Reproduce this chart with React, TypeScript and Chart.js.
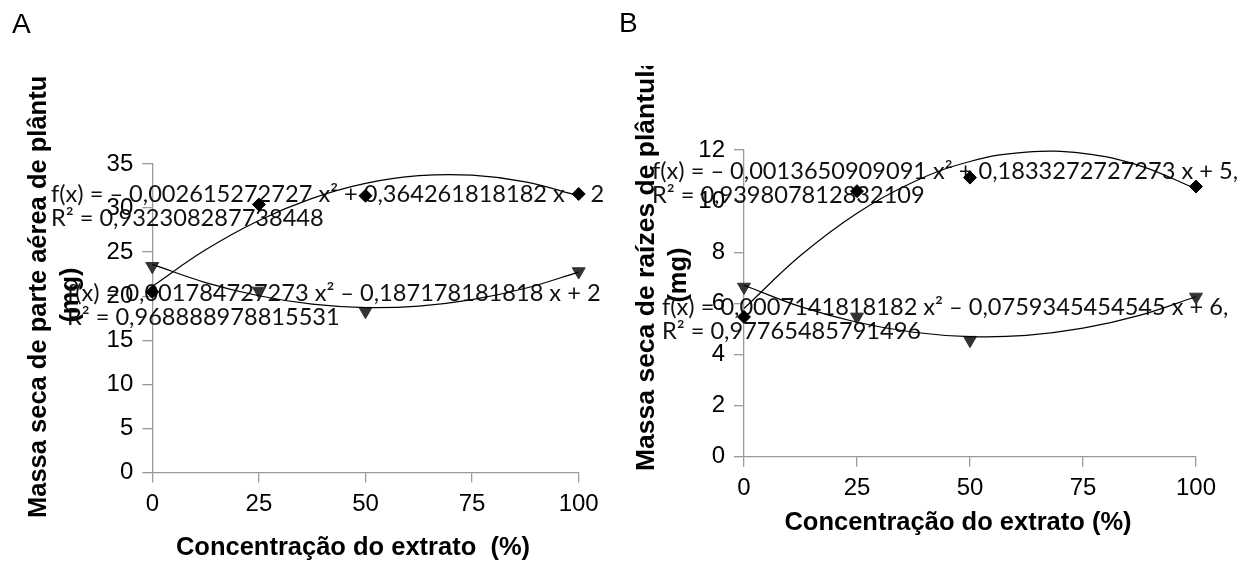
import React, { useEffect, useRef } from 'react';
import { Chart, registerables } from 'chart.js';

Chart.register(...registerables);

// ---------- data ----------
const concentrations = [0, 25, 50, 100];
const trendX = [0, 12.5, 25, 37.5, 50, 62.5, 75, 87.5, 100];

// Panel A: shoot dry mass (mg)
const shootDiamond = [20.5, 30.4, 31.4, 31.6];
const shootTriangle = [23.4, 20.6, 18.3, 22.8];
const shootDiamondTrend = [21.12, 25.26, 28.59, 31.1, 32.8, 33.67, 33.73, 32.97, 31.39];
const shootTriangleTrend = [23.61, 21.55, 20.05, 19.1, 18.71, 18.88, 19.61, 20.9, 22.74];

// Panel B: root dry mass (mg)
const rootDiamond = [5.47, 10.39, 10.92, 10.57];
const rootTriangle = [6.64, 5.47, 4.56, 6.25];
const rootDiamondTrend = [5.8, 7.87, 9.53, 10.75, 11.55, 11.92, 11.87, 11.39, 10.48];
const rootTriangleTrend = [6.71, 5.87, 5.26, 4.87, 4.7, 4.75, 5.03, 5.53, 6.26];

const shootEquations = [
  'f(x) = – 0,002615272727 x² + 0,364261818182 x + 2',
  'R² = 0,932308287738448',
  'f(x) = 0,001784727273 x² – 0,187178181818 x + 2',
  'R² = 0,968888978815531',
];
const rootEquations = [
  'f(x) = – 0,0013650909091 x² + 0,1833272727273 x + 5,',
  'R² = 0,939807812832109',
  'f(x) = 0,0007141818182 x² – 0,0759345454545 x + 6,',
  'R² = 0,97765485791496',
];

const AXIS_GRAY = '#9a9a9a';
const SANS = '"Liberation Sans", Arial, sans-serif';

type PanelCfg = {
  left: number;
  width: number;
  letter: string;
  letterX: number;
  letterY: number;
  xTitle: string;
  xTitleX: number;
  xTitleY: number;
  yTitle: string;
  yTitleSize: number;
  yTitleX: number;
  yTitleBottom: number;
  yClipTop: number;
  mgX: number;
  mgY: number;
  eqPos: { x: number; y: number }[];
  equations: string[];
  yMax: number;
  yStep: number;
  padTop: number;
  padRight: number;
  yWidth: number;
  xHeight: number;
  diamond: number[];
  triangle: number[];
  diamondTrend: number[];
  triangleTrend: number[];
  clipRight: number;
};

const panels: PanelCfg[] = [
  {
    left: 0,
    width: 608,
    letter: 'A',
    letterX: 12,
    letterY: 33,
    xTitle: 'Concentração do extrato  (%)',
    xTitleX: 353,
    xTitleY: 548,
    yTitle: 'Massa seca de parte aérea de plântulas',
    yTitleSize: 25.5,
    yTitleX: 39,
    yTitleBottom: 518,
    yClipTop: 77,
    mgX: 71,
    mgY: 295,
    eqPos: [
      { x: 51, y: 194 },
      { x: 51, y: 218 },
      { x: 67, y: 293 },
      { x: 67, y: 317 },
    ],
    equations: shootEquations,
    yMax: 35,
    yStep: 5,
    padTop: 164,
    padRight: 29.3,
    yWidth: 152.3,
    xHeight: 90.5,
    diamond: shootDiamond,
    triangle: shootTriangle,
    diamondTrend: shootDiamondTrend,
    triangleTrend: shootTriangleTrend,
    clipRight: 608,
  },
  {
    left: 608,
    width: 642,
    letter: 'B',
    letterX: 11,
    letterY: 32,
    xTitle: 'Concentração do extrato (%)',
    xTitleX: 350,
    xTitleY: 523,
    yTitle: 'Massa seca de raízes de plântulas',
    yTitleSize: 26.5,
    yTitleX: 39,
    yTitleBottom: 471,
    yClipTop: 66,
    mgX: 71,
    mgY: 275,
    eqPos: [
      { x: 44, y: 171 },
      { x: 44, y: 195 },
      { x: 54, y: 307 },
      { x: 54, y: 331 },
    ],
    equations: rootEquations,
    yMax: 12,
    yStep: 2,
    padTop: 150,
    padRight: 54,
    yWidth: 136,
    xHeight: 106.3,
    diamond: rootDiamond,
    triangle: rootTriangle,
    diamondTrend: rootDiamondTrend,
    triangleTrend: rootTriangleTrend,
    clipRight: 635,
  },
];

function makeTextPlugin(cfg: PanelCfg) {
  return {
    id: 'panelTexts' + cfg.letter,
    beforeDatasetsDraw(chart: any) {
      const ctx = chart.ctx as CanvasRenderingContext2D;
      ctx.save();
      ctx.fillStyle = '#000';

      // panel letter
      ctx.font = `28px ${SANS}`;
      ctx.textAlign = 'left';
      ctx.textBaseline = 'alphabetic';
      ctx.fillText(cfg.letter, cfg.letterX, cfg.letterY);

      // x-axis title
      ctx.font = `bold 25.5px ${SANS}`;
      ctx.textAlign = 'center';
      ctx.textBaseline = 'middle';
      ctx.fillText(cfg.xTitle, cfg.xTitleX, cfg.xTitleY);

      // y-axis title, first line (clipped at the top)
      ctx.save();
      ctx.beginPath();
      ctx.rect(0, cfg.yClipTop, chart.width, chart.height - cfg.yClipTop);
      ctx.clip();
      ctx.font = `bold ${cfg.yTitleSize}px ${SANS}`;
      ctx.translate(cfg.yTitleX, cfg.yTitleBottom);
      ctx.rotate(-Math.PI / 2);
      ctx.textAlign = 'left';
      ctx.textBaseline = 'middle';
      ctx.fillText(cfg.yTitle, 0, 0);
      ctx.restore();

      // y-axis title, second line
      ctx.save();
      ctx.font = `bold 25.5px ${SANS}`;
      ctx.translate(cfg.mgX, cfg.mgY);
      ctx.rotate(-Math.PI / 2);
      ctx.textAlign = 'center';
      ctx.textBaseline = 'middle';
      ctx.fillText('(mg)', 0, 0);
      ctx.restore();

      // trendline equations
      ctx.save();
      ctx.beginPath();
      ctx.rect(0, 0, cfg.clipRight, chart.height);
      ctx.clip();
      ctx.font = '23.6px Lato, "Open Sans", sans-serif';
      ctx.fillStyle = '#111';
      ctx.textAlign = 'left';
      ctx.textBaseline = 'middle';
      cfg.equations.forEach((t, i) => {
        const p = cfg.eqPos[i];
        ctx.fillText(t, p.x, p.y);
      });
      ctx.restore();

      ctx.restore();
    },
  };
}

function Panel({ cfg }: { cfg: PanelCfg }) {
  const ref = useRef<HTMLCanvasElement | null>(null);

  useEffect(() => {
    if (!ref.current) return;
    const toPts = (xs: number[], ys: number[]) => xs.map((x, i) => ({ x, y: ys[i] }));
    const chart = new Chart(ref.current, {
      type: 'scatter',
      data: {
        datasets: [
          {
            label: 'trend diamond',
            data: toPts(trendX, cfg.diamondTrend),
            showLine: true,
            borderColor: '#000',
            borderWidth: 1.2,
            pointRadius: 0,
            tension: 0.4,
            clip: false,
          } as any,
          {
            label: 'trend triangle',
            data: toPts(trendX, cfg.triangleTrend),
            showLine: true,
            borderColor: '#000',
            borderWidth: 1.2,
            pointRadius: 0,
            tension: 0.4,
            clip: false,
          } as any,
          {
            label: 'diamond',
            data: toPts(concentrations, cfg.diamond),
            showLine: false,
            pointStyle: 'rectRot',
            pointRadius: 6.5,
            backgroundColor: '#000',
            borderColor: '#000',
            borderWidth: 1,
            clip: false,
          } as any,
          {
            label: 'triangle',
            data: toPts(concentrations, cfg.triangle),
            showLine: false,
            pointStyle: 'triangle',
            pointRotation: 180,
            pointRadius: 7.5,
            backgroundColor: '#333',
            borderColor: '#333',
            borderWidth: 1,
            clip: false,
          } as any,
        ],
      },
      options: {
        animation: false,
        responsive: false,
        devicePixelRatio: 1,
        events: [],
        layout: {
          padding: { left: 0, top: cfg.padTop, right: cfg.padRight, bottom: 0 },
        },
        plugins: {
          legend: { display: false },
          tooltip: { enabled: false },
          title: { display: false },
        },
        scales: {
          x: {
            type: 'linear',
            min: 0,
            max: 100,
            ticks: {
              stepSize: 25,
              color: '#000',
              font: { family: SANS, size: 24 },
              padding: 7,
              maxRotation: 0,
            },
            grid: {
              drawOnChartArea: false,
              drawTicks: true,
              tickLength: 10,
              color: AXIS_GRAY,
              lineWidth: 1.3,
            },
            border: { display: true, color: AXIS_GRAY, width: 1.3 },
            afterFit: (scale: any) => {
              scale.height = cfg.xHeight;
            },
          },
          y: {
            type: 'linear',
            min: 0,
            max: cfg.yMax,
            ticks: {
              stepSize: cfg.yStep,
              color: '#000',
              font: { family: SANS, size: 24 },
              padding: 9,
            },
            grid: {
              drawOnChartArea: false,
              drawTicks: true,
              tickLength: 10,
              color: AXIS_GRAY,
              lineWidth: 1.3,
            },
            border: { display: true, color: AXIS_GRAY, width: 1.3 },
            afterFit: (scale: any) => {
              scale.width = cfg.yWidth;
            },
          },
        },
      } as any,
      plugins: [makeTextPlugin(cfg)],
    });
    return () => chart.destroy();
  }, [cfg]);

  return (
    <canvas
      ref={ref}
      width={cfg.width}
      height={563}
      style={{ position: 'absolute', left: cfg.left, top: 0, width: cfg.width, height: 563 }}
    />
  );
}

export default function App() {
  return (
    <div
      style={{
        position: 'fixed',
        left: 0,
        top: 0,
        width: 1250,
        height: 563,
        background: '#fff',
        overflow: 'hidden',
      }}
    >
      {panels.map((p) => (
        <Panel key={p.letter} cfg={p} />
      ))}
    </div>
  );
}
